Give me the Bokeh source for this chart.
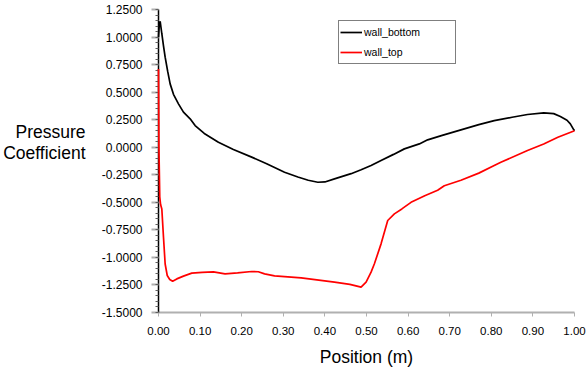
from bokeh.plotting import figure
from bokeh.models import (FixedTicker, NumeralTickFormatter, Range1d, LinearAxis,
                          Legend, LegendItem)
from bokeh.embed import file_html
from bokeh.resources import INLINE

# ---- data -------------------------------------------------------------
bottom_x = [0.0, 0.002, 0.004, 0.008, 0.012, 0.016, 0.022, 0.028, 0.036, 0.048,
            0.06, 0.076, 0.088, 0.11, 0.144, 0.18, 0.224, 0.26, 0.303, 0.335,
            0.36, 0.383, 0.40, 0.423, 0.463, 0.487, 0.511, 0.535, 0.565, 0.591,
            0.627, 0.647, 0.68, 0.727, 0.77, 0.807, 0.85, 0.887, 0.926, 0.95,
            0.966, 0.982, 0.99, 0.998, 1.0]
bottom_y = [1.0, 1.12, 1.143, 1.03, 0.92, 0.817, 0.69, 0.575, 0.48, 0.394,
            0.318, 0.258, 0.197, 0.125, 0.045, -0.02, -0.09, -0.15, -0.227, -0.27,
            -0.30, -0.318, -0.315, -0.287, -0.24, -0.205, -0.166, -0.12, -0.065, -0.015,
            0.03, 0.067, 0.105, 0.158, 0.205, 0.242, 0.272, 0.297, 0.312, 0.305,
            0.279, 0.245, 0.212, 0.16, 0.15]

top_x = [0.0, 0.001, 0.003, 0.005, 0.008, 0.012, 0.016, 0.021, 0.027, 0.034,
         0.044, 0.06, 0.08, 0.105, 0.132, 0.16, 0.19, 0.224, 0.24, 0.255,
         0.279, 0.343, 0.423, 0.46, 0.487, 0.499, 0.511, 0.519, 0.535, 0.551,
         0.567, 0.585, 0.607, 0.64, 0.671, 0.687, 0.727, 0.77, 0.807, 0.823,
         0.887, 0.926, 0.96, 1.0]
top_y = [0.71, 0.0, -0.45, -0.52, -0.56, -0.817, -1.06, -1.164, -1.2, -1.216,
         -1.195, -1.17, -1.143, -1.135, -1.131, -1.149, -1.14, -1.128, -1.13, -1.149,
         -1.167, -1.185, -1.225, -1.245, -1.27, -1.225, -1.134, -1.058, -0.877, -0.665,
         -0.605, -0.56, -0.5, -0.44, -0.39, -0.35, -0.30, -0.235, -0.166, -0.136,
         -0.03, 0.03, 0.09, 0.15]

series_names = ["wall_bottom", "wall_top"]
x_ticks = [0.0, 0.1, 0.2, 0.3, 0.4, 0.5, 0.6, 0.7, 0.8, 0.9, 1.0]
y_ticks = [-1.5, -1.25, -1.0, -0.75, -0.5, -0.25, 0.0, 0.25, 0.5, 0.75, 1.0, 1.25]
y_minor = [round(-1.5 + 0.05 * i, 2) for i in range(56)]
y_title_lines = ["Pressure", "Coefficient"]
y_title_pos = [0.142, -0.048]

FONT = "Liberation Sans"

p = figure(width=588, height=374, output_backend="svg", toolbar_location=None,
           x_range=Range1d(0, 1.0), y_range=Range1d(-1.5, 1.25),
           min_border_left=157, min_border_right=14, min_border_top=9,
           min_border_bottom=62)
p.outline_line_color = None
p.grid.visible = False
p.background_fill_color = "white"
p.border_fill_color = "white"

r1 = p.line(bottom_x, bottom_y, line_color="black", line_width=1.7, level="annotation")
r2 = p.line(top_x, top_y, line_color="#ff0000", line_width=1.7, level="annotation")

# x axis
xa = p.xaxis[0]
xa.ticker = FixedTicker(ticks=x_ticks)
xa.formatter = NumeralTickFormatter(format="0.00")
xa.axis_line_color = "#b0b0b0"
xa.axis_line_width = 2
xa.major_tick_line_color = "#b0b0b0"
xa.major_tick_in = 0
xa.major_tick_out = 4
xa.minor_tick_line_color = None
xa.major_label_text_font = FONT
xa.major_label_text_font_size = "11.5px"
xa.major_label_text_color = "black"
xa.major_label_standoff = 10
xa.axis_label = "Position (m)"
xa.axis_label_text_font = FONT
xa.axis_label_text_font_size = "17.5px"
xa.axis_label_text_font_style = "normal"
xa.axis_label_text_color = "black"
xa.axis_label_standoff = 9

# y axis
ya = p.yaxis[0]
ya.ticker = FixedTicker(ticks=y_ticks, minor_ticks=y_minor)
ya.formatter = NumeralTickFormatter(format="0.0000")
ya.axis_line_color = "black"
ya.axis_line_width = 1.5
ya.major_tick_line_color = "#b0b0b0"
ya.major_tick_line_width = 2
ya.major_tick_in = 0
ya.major_tick_out = 7
ya.minor_tick_line_color = "#606060"
ya.minor_tick_in = 0
ya.minor_tick_out = 3
ya.major_label_text_font = FONT
ya.major_label_text_font_size = "12px"
ya.major_label_text_color = "black"
ya.major_label_standoff = 9

# horizontal y title as an extra, bare axis
ta = LinearAxis(ticker=FixedTicker(ticks=y_title_pos, minor_ticks=[]),
                major_label_overrides={v: t for v, t in zip(y_title_pos, y_title_lines)})
ta.axis_line_color = None
ta.major_tick_line_color = None
ta.minor_tick_line_color = None
ta.major_tick_in = 0
ta.major_tick_out = 0
ta.major_label_standoff = 13
ta.major_label_text_font = FONT
ta.major_label_text_font_size = "17.5px"
ta.major_label_text_color = "black"
p.add_layout(ta, "left")

legend = Legend(items=[LegendItem(label=series_names[0], renderers=[r1]),
                       LegendItem(label=series_names[1], renderers=[r2])],
                location=(180, 248), orientation="vertical")
legend.border_line_color = "black"
legend.border_line_width = 1
legend.background_fill_color = "white"
legend.background_fill_alpha = 1
legend.padding = 1
legend.margin = 0
legend.spacing = 0
legend.glyph_width = 22
legend.glyph_height = 20
legend.label_height = 20
legend.label_width = 90
legend.label_standoff = 2
legend.label_text_font = FONT
legend.label_text_font_size = "10.5px"
legend.label_text_color = "black"
p.add_layout(legend)

open("out.html", "w").write(file_html(p, INLINE))
